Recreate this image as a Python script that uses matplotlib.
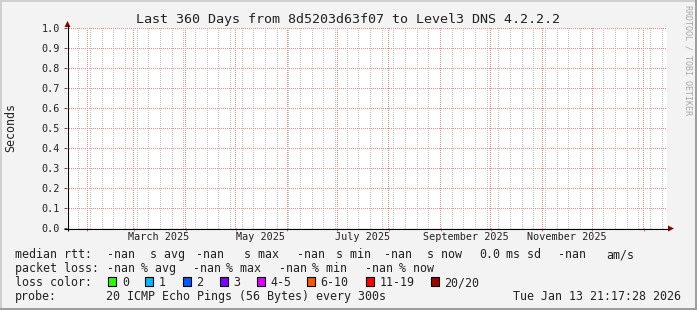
import datetime as dt
import numpy as np
import matplotlib
matplotlib.use("Agg")
import matplotlib.pyplot as plt
import matplotlib.dates as mdates
from matplotlib.patches import Rectangle, Polygon

W, H = 697, 310
MONO = "DejaVu Sans Mono"

# ---- chart content ----
title = "Last 360 Days from 8d5203d63f07 to Level3 DNS 4.2.2.2"
y_label = "Seconds"
y_ticks = [0.0, 0.1, 0.2, 0.3, 0.4, 0.5, 0.6, 0.7, 0.8, 0.9, 1.0]
span_start = dt.datetime(2025, 1, 19, 20, 0)
span_days = 360
label_months = [dt.datetime(2025, 3, 1), dt.datetime(2025, 5, 1), dt.datetime(2025, 7, 1),
                dt.datetime(2025, 9, 1), dt.datetime(2025, 11, 1)]

rtt_line = ["median rtt:", "-nan", "s avg", "-nan", "s max", "-nan", "s min",
            "-nan", "s now", "0.0", "ms sd", "-nan", "am/s"]
loss_line = ["packet loss:", "-nan", "% avg", "-nan", "% max", "-nan", "% min",
             "-nan", "% now"]
loss_labels = ["0", "1", "2", "3", "4-5", "6-10", "11-19", "20/20"]
loss_colors = ["#26ff00", "#00b8ff", "#0059ff", "#7e00ff", "#dd00ff",
               "#ff5500", "#ff0000", "#a10000"]
probe_text = "20 ICMP Echo Pings (56 Bytes) every 300s"
stamp = "Tue Jan 13 21:17:28 2026"
credit = "RRDTOOL / TOBI OETIKER"

# ---- layout (pixels) ----
X0, X1, Y0, Y1 = 67, 667, 228, 28
rtt_x = [15, 107, 150, 196, 244, 297, 336, 384, 427, 479, 506, 558, 606]
loss_x = [15, 107, 141, 193, 226, 279, 312, 365, 399]
box_x = [108, 145, 182.5, 219.5, 256.5, 306.5, 365.5, 430.5]
LEG = 8.4   # legend font size
AXF = 7.3   # axis label font size
RED = (1.0, 0.52, 0.52, 1.0)
GREY = (0.78, 0.78, 0.78, 1.0)

fig = plt.figure(figsize=(W / 100, H / 100), dpi=100)
fig.patch.set_facecolor("#f3f3f3")

ax = fig.add_axes([X0 / W, 1 - Y0 / H, (X1 - X0) / W, (Y0 - Y1) / H])
ax.set_facecolor("white")
t_end = span_start + dt.timedelta(days=span_days)
ax.set_xlim(span_start, t_end)
ax.set_ylim(0, 1)
for s in ax.spines.values():
    s.set_visible(False)

lo, hi = mdates.date2num(span_start), mdates.date2num(t_end)
months = [m for m in mdates.MonthLocator().tick_values(span_start, t_end) if lo < m < hi]
weeks = [w for w in mdates.WeekdayLocator(byweekday=mdates.MO).tick_values(span_start, t_end)
         if lo < w < hi]

ax.set_xticks(months)
ax.set_xticklabels([])
ax.tick_params(axis="x", which="major", length=2.5, width=0.72, color="#e07070", direction="out")
ax.set_xticks([mdates.date2num(m + dt.timedelta(days=15)) for m in label_months], minor=True)
ax.set_xticklabels([m.strftime("%B %Y") for m in label_months], minor=True,
                   fontfamily=MONO, fontsize=AXF, color="#222222")
ax.tick_params(axis="x", which="minor", length=0, pad=3.2)
ax.set_yticks(y_ticks)
ax.set_yticklabels([f"{v:.1f}" for v in y_ticks], fontfamily=MONO, fontsize=AXF, color="#222222")
ax.tick_params(axis="y", length=2.5, width=0.72, color="#555555", pad=2.6)

# dotted rrdtool-style grid, pixel by pixel, positions taken from the axes transform
gh, gw = Y0 - Y1 + 1, X1 - X0
grid = np.zeros((gh, gw, 4))

def col_of(xnum):
    return int(np.floor(ax.transData.transform((xnum, 0))[0])) - X0

def row_of(yval):
    return int(round(H - ax.transData.transform((lo, yval))[1])) - Y1

for w in weeks:
    c = col_of(w)
    if 0 < c < gw:
        grid[0::2, c] = GREY
for m in months:
    c = col_of(m)
    if 0 < c < gw:
        grid[0::2, c] = RED
for v in y_ticks[1:]:
    grid[row_of(v), 0::2] = RED

fig.figimage(grid, xo=X0, yo=H - Y1 - gh, origin="upper", zorder=0.5)

# ---- overlay in pixel coordinates ----
ov = fig.add_axes([0, 0, 1, 1])
ov.set_zorder(1)
ov.axis("off")
ov.patch.set_alpha(0)
ov.set_xlim(0, W)
ov.set_ylim(H, 0)

ov.add_patch(Rectangle((0, 0), W, 2, color="#cfcfcf", lw=0))
ov.add_patch(Rectangle((0, 0), 2, H, color="#cfcfcf", lw=0))
ov.add_patch(Rectangle((0, H - 2), W, 2, color="#9e9e9e", lw=0))
ov.add_patch(Rectangle((W - 2, 0), 2, H, color="#9e9e9e", lw=0))

ov.plot([X0 + 0.5, X0 + 0.5], [Y0 + 3, Y1 - 3], color="black", lw=0.8, solid_capstyle="butt", zorder=3)
ov.plot([X0 - 3, X1 + 2], [Y0 + 0.5, Y0 + 0.5], color="black", lw=0.8, solid_capstyle="butt", zorder=3)
ov.add_patch(Polygon([[X0 - 2.5, Y1 - 1], [X0 + 3.5, Y1 - 1], [X0 + 0.5, Y1 - 7]], color="#8b0000", lw=0))
ov.add_patch(Polygon([[X1 + 1, Y0 - 2.5], [X1 + 1, Y0 + 3.5], [X1 + 7, Y0 + 0.5]], color="#8b0000", lw=0))

ov.text(348, 19, title, fontfamily=MONO, fontsize=9.6, ha="center", va="center", color="#222222")
ov.text(11, 127, y_label, fontfamily=MONO, fontsize=LEG, rotation=90, ha="center", va="center",
        color="#222222")
ov.text(688, 5, credit, fontfamily=MONO, fontsize=6.0, rotation=270, ha="center", va="top",
        color="#a8a8a8")

base = [258, 272, 286, 300]
for tok, x in zip(rtt_line, rtt_x):
    ov.text(x, base[0], tok, fontfamily=MONO, fontsize=LEG, va="baseline", color="#222222")
for tok, x in zip(loss_line, loss_x):
    ov.text(x, base[1], tok, fontfamily=MONO, fontsize=LEG, va="baseline", color="#222222")
ov.text(15, base[2], "loss color:", fontfamily=MONO, fontsize=LEG, va="baseline", color="#222222")
for lab, col, x in zip(loss_labels, loss_colors, box_x):
    ov.add_patch(Rectangle((x, base[2] - 9), 8, 9, facecolor=col, edgecolor="black", lw=0.8))
    ov.text(x + 14, base[2], lab, fontfamily=MONO, fontsize=LEG, va="baseline", color="#222222")
ov.text(15, base[3], "probe:", fontfamily=MONO, fontsize=LEG, va="baseline", color="#222222")
ov.text(106, base[3], probe_text, fontfamily=MONO, fontsize=LEG, va="baseline", color="#222222")
ov.text(681, base[3], stamp, fontfamily=MONO, fontsize=LEG, va="baseline", ha="right", color="#222222")

fig.savefig("out.png", dpi=100, facecolor=fig.get_facecolor())
